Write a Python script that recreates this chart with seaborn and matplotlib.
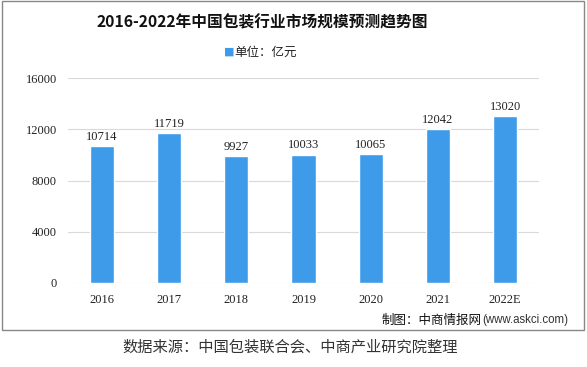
import matplotlib
matplotlib.use("Agg")
import matplotlib.pyplot as plt
import seaborn as sns
import pandas as pd
from matplotlib.patches import Rectangle

years = ["2016", "2017", "2018", "2019", "2020", "2021", "2022E"]
values = [10714, 11719, 9927, 10033, 10065, 12042, 13020]
yticks = [0, 4000, 8000, 12000, 16000]

df = pd.DataFrame({"year": years, "value": values})

sns.set_theme(style="white")
plt.rcParams["font.family"] = ["Noto Sans CJK SC", "DejaVu Sans"]

fig = plt.figure(figsize=(5.87, 3.67), dpi=100)
ax = fig.add_axes([0.116, 0.2297, 0.802, 0.5569])

bar_color = "#3D9BEA"
sns.barplot(data=df, x="year", y="value", color=bar_color, width=0.36,
            saturation=1, ax=ax, zorder=3)

ax.set_ylim(0, 16000)
ax.set_yticks(yticks)
ax.set_yticklabels([str(t) for t in yticks], family="Liberation Serif", fontsize=9, color="#222222")
ax.set_xticklabels(years, family="Liberation Serif", fontsize=9, color="#222222")
ax.set_xlabel("")
ax.set_ylabel("")
ax.grid(axis="y", color="#D9D9D9", linewidth=0.8, zorder=0)
for s in ax.spines.values():
    s.set_visible(False)
ax.tick_params(axis="both", length=0, pad=8)

for i, v in enumerate(values):
    ax.text(i, v + 250, str(v), ha="center", va="bottom",
            family="Liberation Serif", fontsize=9, color="#222222")

fig.text(0.446, 0.94, "2016-2022年中国包装行业市场规模预测趋势图", ha="center", va="center",
         fontsize=11.3, fontweight="bold", color="#111111")
fig.text(0.391, 0.858, "■", ha="center", va="center", fontsize=8, color=bar_color,
         family=["DejaVu Sans"])
fig.text(0.399, 0.858, "单位：亿元", ha="left", va="center", fontsize=9, color="#222222")

fig.text(0.821, 0.128, "制图：中商情报网", ha="right", va="center", fontsize=9,
         color="#111111")
fig.text(0.821, 0.128, "(www.askci.com)", ha="left", va="center", fontsize=8.3,
         color="#333333", family=["Liberation Sans"])

fig.patches.append(Rectangle((0.004, 0.101), 0.991, 0.897, transform=fig.transFigure,
                             fill=False, edgecolor="#888888", linewidth=1))

fig.text(0.495, 0.054, "数据来源：中国包装联合会、中商产业研究院整理", ha="center", va="center",
         fontsize=11, color="#333333")

fig.savefig("out.png", dpi=100)
